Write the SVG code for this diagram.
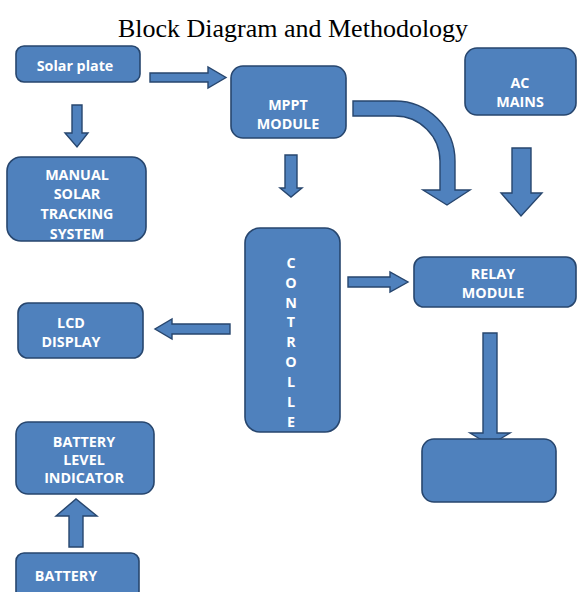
<svg xmlns="http://www.w3.org/2000/svg" width="577" height="592" viewBox="0 0 577 592">
<style>
.box{fill:#4F81BD;stroke:#27466E;stroke-width:1.6}
.arr{fill:#4F81BD;stroke:#27466E;stroke-width:1.4;stroke-linejoin:miter}
.lbl{font-family:"Open Sans","Liberation Sans",sans-serif;font-weight:bold;font-size:14.3px;fill:#FFFFFF;text-anchor:middle}
.title{font-family:"Liberation Serif","Times New Roman",serif;font-size:26px;fill:#000;text-anchor:middle}
</style>
<rect width="577" height="592" fill="#FFFFFF"/>
<text class="title" x="293" y="37">Block Diagram and Methodology</text>
<g id="connectors">
<polygon class="arr" points="150,73 208,73 208,67 226,77.5 208,88 208,82 150,82"/>
<polygon class="arr" points="72,105 82,105 82,133 88,133 77,147 65,133 72,133"/>
<polygon class="arr" points="285,155 297,155 297,188 302,188 291,197 280,188 285,188"/>
<path class="arr" d="M353,101 L395,101 A60,60 0 0 1 455,161 L455,190 L470,190 L447,205 L423,190 L440,190 L440,161 A45,45 0 0 0 395,116 L353,116 Z"/>
<polygon class="arr" points="512,148 531,148 531,193 542,193 521,216 501,193 512,193"/>
<polygon class="arr" points="348,277 390,277 390,272 408,282 390,292 390,287 348,287"/>
<polygon class="arr" points="230,324 172,324 172,319 155,329 172,339 172,334 230,334"/>
<polygon class="arr" points="69,547 69,516 56,516 76,499 97,516 83,516 83,547"/>
<polygon class="arr" points="483,333 497,333 497,433 510,433 490,445 470,433 483,433"/>
</g>
<g id="solar">
<rect class="box" x="16" y="46" width="124" height="36" rx="8"/>
<text class="lbl" x="75" y="71">Solar plate</text>
</g>
<g id="mppt">
<rect class="box" x="231" y="66" width="115" height="72" rx="12"/>
<text class="lbl" x="288" y="110">MPPT</text>
<text class="lbl" x="288" y="129">MODULE</text>
</g>
<g id="ac">
<rect class="box" x="465" y="48" width="111" height="67" rx="12"/>
<text class="lbl" x="520" y="88">AC</text>
<text class="lbl" x="520" y="107">MAINS</text>
</g>
<g id="manual">
<rect class="box" x="7" y="157" width="139" height="84" rx="14"/>
<text class="lbl" x="77" y="180">MANUAL</text>
<text class="lbl" x="77" y="199">SOLAR</text>
<text class="lbl" x="77" y="219">TRACKING</text>
<text class="lbl" x="77" y="239">SYSTEM</text>
</g>
<g id="controller">
<rect class="box" x="245" y="228" width="95" height="204" rx="15"/>
<text class="lbl" x="291" y="268">C</text>
<text class="lbl" x="291" y="288">O</text>
<text class="lbl" x="291" y="308">N</text>
<text class="lbl" x="291" y="327">T</text>
<text class="lbl" x="291" y="347">R</text>
<text class="lbl" x="291" y="367">O</text>
<text class="lbl" x="291" y="387">L</text>
<text class="lbl" x="291" y="407">L</text>
<text class="lbl" x="291" y="427">E</text>
</g>
<g id="relay">
<rect class="box" x="414" y="257" width="162" height="50" rx="10"/>
<text class="lbl" x="493" y="279">RELAY</text>
<text class="lbl" x="493" y="298">MODULE</text>
</g>
<g id="lcd">
<rect class="box" x="18" y="303" width="125" height="55" rx="10"/>
<text class="lbl" x="71" y="328">LCD</text>
<text class="lbl" x="71" y="347">DISPLAY</text>
</g>
<g id="battery-level">
<rect class="box" x="16" y="422" width="138" height="72" rx="12"/>
<text class="lbl" x="84" y="447">BATTERY</text>
<text class="lbl" x="84" y="465">LEVEL</text>
<text class="lbl" x="84" y="483">INDICATOR</text>
</g>
<g id="battery">
<rect class="box" x="16" y="553" width="123" height="50" rx="8"/>
<text class="lbl" x="66" y="581">BATTERY</text>
</g>
<g id="load">
<rect class="box" x="422" y="439" width="134" height="63" rx="12"/>
</g>
</svg>
